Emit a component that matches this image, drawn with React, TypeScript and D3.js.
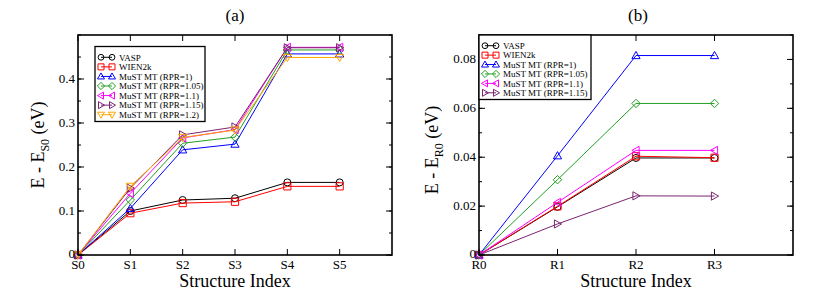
import React from "react";
import * as d3 from "d3";

// panel (a)
const catsA = ["S0", "S1", "S2", "S3", "S4", "S5"];
const vaspA = [0, 0.1, 0.125, 0.129, 0.165, 0.165];
const wien2kA = [0, 0.095, 0.118, 0.121, 0.156, 0.156];
const rpr100A = [0, 0.106, 0.239, 0.252, 0.457, 0.457];
const rpr105A = [0, 0.125, 0.254, 0.268, 0.466, 0.466];
const rpr110A = [0, 0.14, 0.266, 0.285, 0.472, 0.472];
const rpr115A = [0, 0.152, 0.273, 0.291, 0.471, 0.471];
const rpr120A = [0, 0.156, 0.267, 0.284, 0.449, 0.449];
const yTicksA = [0, 0.1, 0.2, 0.3, 0.4];

// panel (b)
const catsB = ["R0", "R1", "R2", "R3"];
const vaspB = [0, 0.0197, 0.0397, 0.0397];
const wien2kB = [0, 0.0199, 0.0404, 0.0398];
const rpr100B = [0, 0.0406, 0.0816, 0.0816];
const rpr105B = [0, 0.0308, 0.062, 0.062];
const rpr110B = [0, 0.0215, 0.0428, 0.0428];
const rpr115B = [0, 0.0127, 0.0242, 0.0241];
const yTicksB = [0, 0.02, 0.04, 0.06, 0.08];

const seriesNames = [
  "VASP",
  "WIEN2k",
  "MuST MT (RPR=1)",
  "MuST MT (RPR=1.05)",
  "MuST MT (RPR=1.1)",
  "MuST MT (RPR=1.15)",
  "MuST MT (RPR=1.2)",
];
const colors = ["#000000", "#ff0000", "#0000ff", "#22a022", "#ff00ff", "#7a2470", "#ffa500"];
const shapes = ["circle", "square", "up", "diamond", "left", "right", "down"];

const FONT = "Liberation Serif, Times New Roman, DejaVu Serif, serif";

function Marker({ x, y, shape, color, s = 3.6 }: any) {
  let d = "";
  if (shape === "circle") return <circle cx={x} cy={y} r={s - 0.1} fill="none" stroke={color} strokeWidth={1} />;
  if (shape === "square") d = `M${x - s},${y - s}h${2 * s}v${2 * s}h${-2 * s}Z`;
  if (shape === "diamond") d = `M${x},${y - s - 0.6}L${x + s + 0.6},${y}L${x},${y + s + 0.6}L${x - s - 0.6},${y}Z`;
  if (shape === "up") d = `M${x},${y - s - 0.5}L${x + s + 0.5},${y + s - 0.5}L${x - s - 0.5},${y + s - 0.5}Z`;
  if (shape === "down") d = `M${x},${y + s + 0.5}L${x + s + 0.5},${y - s + 0.5}L${x - s - 0.5},${y - s + 0.5}Z`;
  if (shape === "left") d = `M${x - s - 0.5},${y}L${x + s - 0.5},${y - s - 0.5}L${x + s - 0.5},${y + s + 0.5}Z`;
  if (shape === "right") d = `M${x + s + 0.5},${y}L${x - s + 0.5},${y - s - 0.5}L${x - s + 0.5},${y + s + 0.5}Z`;
  return <path d={d} fill="none" stroke={color} strokeWidth={1} />;
}

function Panel({ box, cats, xMax, yMax, yTicks, minorStep, fmt, series, title, titleX, sub, ylabX, ylabY, legend }: any) {
  const [x0, y0, x1, y1] = box;
  const x = d3.scaleLinear().domain([0, xMax]).range([x0, x1]);
  const y = d3.scaleLinear().domain([0, yMax]).range([y1, y0]);
  const line = d3
    .line<number>()
    .x((_, i) => x(i))
    .y((d) => y(d));
  const minor = d3.range(0, yMax + 1e-9, minorStep);
  const [lx0, ly0, lx1, ly1] = legend;
  const rowH = (ly1 - ly0 - 8) / series.length;

  return (
    <g style={{ fontFamily: FONT }}>
      <text x={titleX} y={21} fontSize={17} textAnchor="middle">{title}</text>
      {series.map((vals: number[], si: number) => (
        <g key={si}>
          <path d={line(vals) || ""} fill="none" stroke={colors[si]} strokeWidth={1} />
          {vals.map((v, i) => (
            <Marker key={i} x={x(i)} y={y(v)} shape={shapes[si]} color={colors[si]} />
          ))}
        </g>
      ))}
      <rect x={x0} y={y0} width={x1 - x0} height={y1 - y0} fill="none" stroke="#000" strokeWidth={1.6} />
      {minor.map((v: number, i: number) => (
        <g key={"m" + i} stroke="#000" strokeWidth={1}>
          <line x1={x0} x2={x0 + 3} y1={y(v)} y2={y(v)} />
          <line x1={x1} x2={x1 - 3} y1={y(v)} y2={y(v)} />
        </g>
      ))}
      {yTicks.map((v: number) => (
        <g key={"y" + v}>
          <line x1={x0} x2={x0 + 6} y1={y(v)} y2={y(v)} stroke="#000" strokeWidth={1} />
          <line x1={x1} x2={x1 - 6} y1={y(v)} y2={y(v)} stroke="#000" strokeWidth={1} />
          <text x={x0 - 3} y={y(v) + (v === 0 ? 2.5 : 4)} fontSize={13} textAnchor="end">{fmt(v)}</text>
        </g>
      ))}
      {cats.map((c: string, i: number) => (
        <g key={c}>
          <line x1={x(i)} x2={x(i)} y1={y1} y2={y1 - 6} stroke="#000" strokeWidth={1} />
          <line x1={x(i)} x2={x(i)} y1={y0} y2={y0 + 6} stroke="#000" strokeWidth={1} />
          <text x={x(i)} y={y1 + 13.5} fontSize={13} textAnchor="middle">{c}</text>
        </g>
      ))}
      <text x={(x0 + x1) / 2} y={287} fontSize={18} textAnchor="middle">Structure Index</text>
      <text transform={`translate(${ylabX},${ylabY}) rotate(-90)`} fontSize={18} textAnchor="middle">
        E - E<tspan fontSize={12} dy={5}>{sub}</tspan>
        <tspan dy={-5}> (eV)</tspan>
      </text>
      <rect x={lx0} y={ly0} width={lx1 - lx0} height={ly1 - ly0} fill="#fff" stroke="#000" strokeWidth={1.3} />
      {series.map((_: number[], si: number) => {
        const ry = ly0 + 6 + rowH * (si + 0.5);
        return (
          <g key={"l" + si}>
            <line x1={lx0 + 6} x2={lx0 + 17} y1={ry} y2={ry} stroke={colors[si]} strokeWidth={1} />
            <Marker x={lx0 + 6} y={ry} shape={shapes[si]} color={colors[si]} s={3} />
            <Marker x={lx0 + 17} y={ry} shape={shapes[si]} color={colors[si]} s={3} />
            <text x={lx0 + 24} y={ry + 3.3} fontSize={9}>{seriesNames[si]}</text>
          </g>
        );
      })}
    </g>
  );
}

export default function App() {
  return (
    <svg width={831} height={303} style={{ display: "block", position: "absolute", left: 0, top: 0 }}>
      <rect width={831} height={303} fill="#fff" />
      <Panel
        box={[78, 35, 392, 255]}
        cats={catsA}
        xMax={6}
        yMax={0.5}
        yTicks={yTicksA}
        minorStep={0.05}
        fmt={(v: number) => (v === 0 ? "0" : d3.format(".1f")(v))}
        series={[vaspA, wien2kA, rpr100A, rpr105A, rpr110A, rpr115A, rpr120A]}
        title="(a)"
        titleX={235}
        sub="S0"
        ylabX={44}
        ylabY={145}
        legend={[95, 46.5, 205, 121.5]}
      />
      <Panel
        box={[479, 35, 793, 255]}
        cats={catsB}
        xMax={4}
        yMax={0.09}
        yTicks={yTicksB}
        minorStep={0.01}
        fmt={(v: number) => (v === 0 ? "0" : d3.format(".2f")(v))}
        series={[vaspB, wien2kB, rpr100B, rpr105B, rpr110B, rpr115B]}
        title="(b)"
        titleX={638}
        sub="R0"
        ylabX={438}
        ylabY={150}
        legend={[479, 35, 591, 99.5]}
      />
    </svg>
  );
}
